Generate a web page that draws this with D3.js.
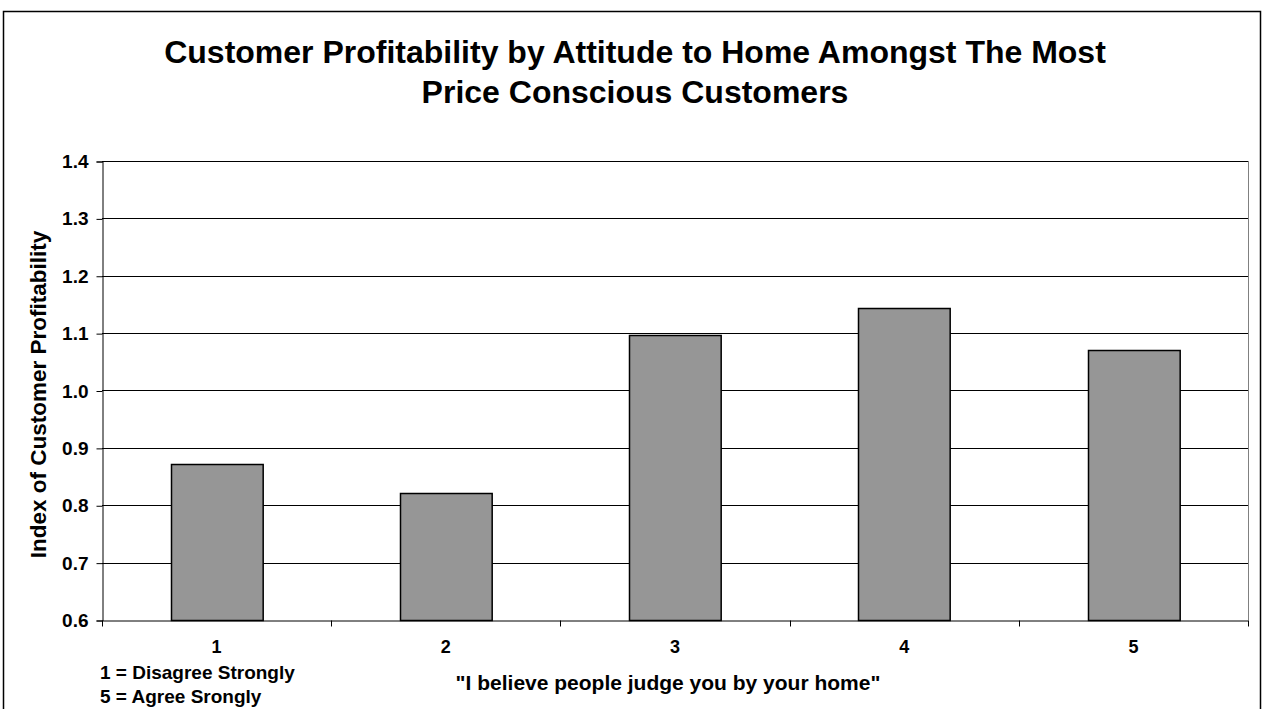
<!DOCTYPE html>
<html>
<head>
<meta charset="utf-8">
<script src="https://cdn.jsdelivr.net/npm/d3@7"></script>
<style>
  body { margin: 0; background: #fff; }
  text { font-family: "Liberation Sans", Arial, sans-serif; font-weight: bold; fill: #000; }
</style>
</head>
<body>
<svg id="chart"></svg>
<script>
var categories = ["1", "2", "3", "4", "5"];
var values = [0.872, 0.821, 1.097, 1.144, 1.071];
var yTicks = [0.6, 0.7, 0.8, 0.9, 1.0, 1.1, 1.2, 1.3, 1.4];
var titleLines = ["Customer Profitability by Attitude to Home Amongst The Most", "Price Conscious Customers"];
var notes = ["1 = Disagree Strongly", "5 = Agree Srongly"];

var W = 1263, H = 709;
var plotLeft = 102, plotRight = 1248, plotTop = 161, plotBottom = 620;

var svg = d3.select("#chart").attr("width", W).attr("height", H);

// outer frame
svg.append("rect")
  .attr("x", 3.5).attr("y", 11.5)
  .attr("width", 1257).attr("height", 720)
  .attr("fill", "#fff").attr("stroke", "#000").attr("stroke-width", 1.5);

// title
svg.selectAll("text.title").data(titleLines).enter().append("text")
  .attr("class", "title")
  .attr("x", 635).attr("y", function(d, i) { return 63 + i * 40; })
  .attr("text-anchor", "middle")
  .style("font-size", "32px")
  .text(function(d) { return d; });

var x = d3.scaleBand().domain(categories).range([plotLeft, plotRight]).paddingInner(0.6).paddingOuter(0.3);
var xb = d3.scaleBand().domain(categories).range([plotLeft, plotRight]);
var y = d3.scaleLinear().domain([0.6, 1.4]).range([plotBottom, plotTop]);

// gridlines
svg.append("g").selectAll("line").data(yTicks.slice(1)).enter().append("line")
  .attr("x1", plotLeft).attr("x2", plotRight)
  .attr("y1", function(d) { return Math.round(y(d)) + 0.5; })
  .attr("y2", function(d) { return Math.round(y(d)) + 0.5; })
  .attr("stroke", "#000").attr("stroke-width", 1);

// right plot border
svg.append("line")
  .attr("x1", plotRight + 0.5).attr("x2", plotRight + 0.5)
  .attr("y1", plotTop).attr("y2", plotBottom)
  .attr("stroke", "#808080");

// bars
svg.append("g").selectAll("rect").data(values).enter().append("rect")
  .attr("x", function(d, i) { return Math.round(x(categories[i])) + 0.5; })
  .attr("y", function(d) { return Math.round(y(d)) + 0.5; })
  .attr("width", x.bandwidth())
  .attr("height", function(d) { return plotBottom - Math.round(y(d)); })
  .attr("fill", "#969696")
  .attr("stroke", "#000").attr("stroke-width", 1.5);

// y axis
var yAxis = svg.append("g")
  .attr("transform", "translate(" + (plotLeft + 0.5) + ",0.5)")
  .call(d3.axisLeft(y).tickValues(yTicks).tickFormat(d3.format(".1f")).tickSize(6).tickPadding(8));
yAxis.selectAll("text").style("font-size", "19px").attr("font-family", null);
yAxis.selectAll("line, path").attr("stroke", "#000");

// x axis
var xAxis = svg.append("g")
  .attr("transform", "translate(0," + (plotBottom + 0.5) + ")")
  .call(d3.axisBottom(xb).tickSize(0).tickPadding(20));
xAxis.selectAll("text").style("font-size", "18px").attr("font-family", null);
xAxis.select("path").attr("stroke", "#000");
xAxis.selectAll("line.cat").data(categories.concat([""])).enter().append("line")
  .attr("class", "cat")
  .attr("x1", function(d, i) { return Math.round(plotLeft + i * xb.bandwidth()) + 0.5; })
  .attr("x2", function(d, i) { return Math.round(plotLeft + i * xb.bandwidth()) + 0.5; })
  .attr("y1", 0).attr("y2", 6)
  .attr("stroke", "#000");

// axis titles
svg.append("text")
  .attr("transform", "translate(46," + ((plotTop + plotBottom) / 2 + 4) + ") rotate(-90)")
  .attr("text-anchor", "middle")
  .style("font-size", "22.5px")
  .text("Index of Customer Profitability");

svg.append("text")
  .attr("x", 668).attr("y", 690)
  .attr("text-anchor", "middle")
  .style("font-size", "21px")
  .text("\"I believe people judge you by your home\"");

svg.selectAll("text.note").data(notes).enter().append("text")
  .attr("class", "note")
  .attr("x", 100).attr("y", function(d, i) { return 679 + i * 24; })
  .style("font-size", "19px")
  .text(function(d) { return d; });
</script>
</body>
</html>
